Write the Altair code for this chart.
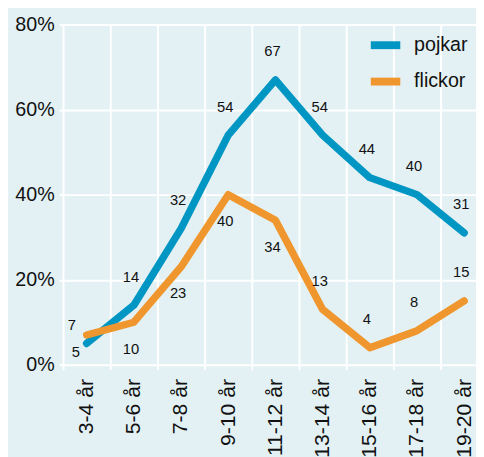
import altair as alt
import pandas as pd

ages = ["3-4 år", "5-6 år", "7-8 år", "9-10 år", "11-12 år",
        "13-14 år", "15-16 år", "17-18 år", "19-20 år"]
pojkar = [5, 14, 32, 54, 67, 54, 44, 40, 31]
flickor = [7, 10, 23, 40, 34, 13, 4, 8, 15]
series = ["pojkar", "flickor"]
colors = ["#0096c3", "#f0962e"]
pojkar_sides = ["lower-left"] + ["above"] * 8
flickor_sides = ["upper-left", "below", "below", "below", "below",
                 "above", "above", "above", "above"]
y_ticks = [0, 20, 40, 60, 80]

rows = []
for name, vals, sides in (("pojkar", pojkar, pojkar_sides),
                          ("flickor", flickor, flickor_sides)):
    for a, v, sd in zip(ages, vals, sides):
        rows.append({"age": a, "value": v, "serie": name, "side": sd})
df = pd.DataFrame(rows)

FONT = "Liberation Sans"

x = alt.X(
    "age:N", sort=ages, bandPosition=0.5,
    scale=alt.Scale(type="band", range=[0, 432], paddingInner=0, paddingOuter=0),
    axis=alt.Axis(title=None, tickBand="extent", grid=True, gridColor="white",
                  gridWidth=2, domain=False, tickColor="white", tickWidth=2,
                  tickSize=5, labelAngle=-90, labelAlign="right",
                  labelBaseline="middle", labelPadding=9, labelFontSize=21.5,
                  labelFont=FONT, labelColor="#111111"),
)
y = alt.Y(
    "value:Q",
    scale=alt.Scale(domain=[0, 80], nice=False, zero=True),
    axis=alt.Axis(title=None, values=y_ticks, grid=True, gridColor="white",
                  gridWidth=2, domain=False, tickColor="white", tickWidth=2,
                  tickSize=4, labelPadding=5, labelFontSize=20, labelFont=FONT,
                  labelColor="#111111", labelExpr="datum.value + '%'"),
)

base = alt.Chart(df)

lines = base.mark_line(strokeWidth=7.5, strokeCap="round", strokeJoin="round").encode(
    x=x, y=y,
    color=alt.Color("serie:N", sort=series,
                    scale=alt.Scale(domain=series, range=colors),
                    legend=alt.Legend(title=None, orient="none", legendX=309,
                                      legendY=2, symbolType="stroke",
                                      symbolSize=900, symbolStrokeWidth=8,
                                      labelFontSize=20, labelFont=FONT,
                                      labelColor="#111111", labelOffset=10,
                                      rowPadding=2, padding=0)),
    detail="serie:N",
)

offsets = {"above": (-3, -29), "below": (-3, 27),
           "lower-left": (-11, 9), "upper-left": (-15, -10)}
texts = []
for side, (dx, dy) in offsets.items():
    texts.append(
        base.transform_filter(alt.datum.side == side)
        .mark_text(dx=dx, dy=dy, fontSize=15, font=FONT, color="#111111")
        .encode(x=x, y=y, text="value:Q")
    )

chart = alt.layer(lines, *texts).properties(
    width=420, height=346,
    autosize=alt.AutoSizeParams(type="none"),
    padding={"left": 56, "top": 13, "right": 0, "bottom": 90},
    background="#e3f1f5",
).configure_view(stroke=None)

chart.save("out.html", embed_options={"renderer": "svg", "actions": False})
